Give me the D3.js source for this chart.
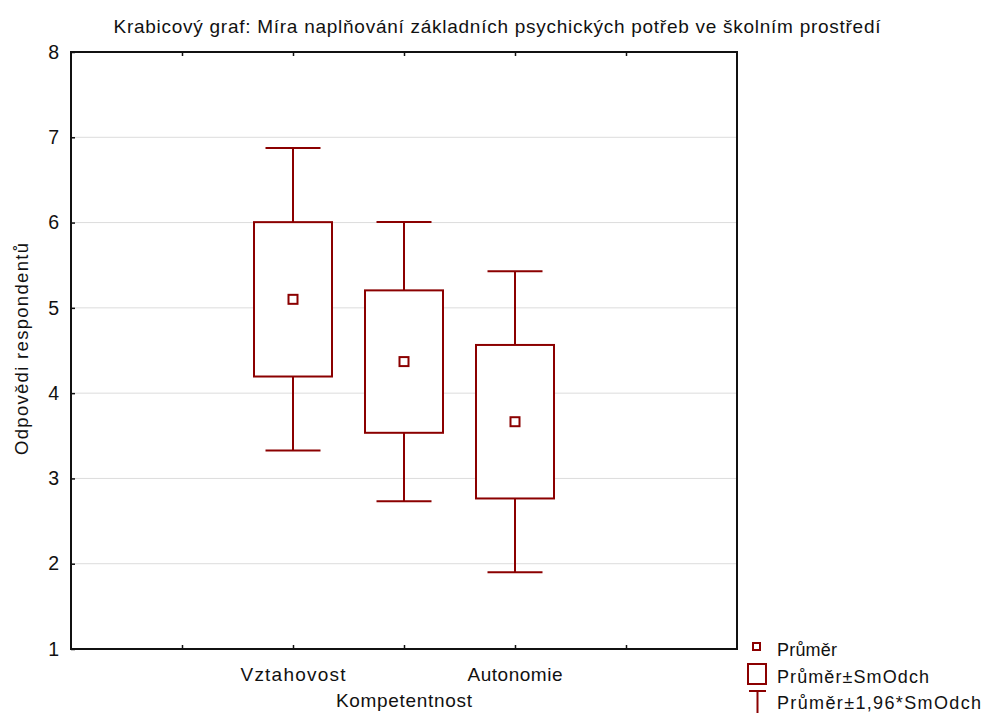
<!DOCTYPE html>
<html>
<head>
<meta charset="utf-8">
<script src="https://cdn.jsdelivr.net/npm/d3@7"></script>
<style>
  html, body { margin: 0; padding: 0; background: #fff; }
  svg { display: block; }
  text { font-family: "Liberation Sans", Arial, Helvetica, sans-serif; fill: #111; }
</style>
</head>
<body>
<svg id="chart" width="986" height="713"></svg>
<script>
// Skupiny (kategorie osy x) a jejich pozice na ose
const categories = ["Vztahovost", "Kompetentnost", "Autonomie"];
const categoryPositions = [2, 3, 4];
// Průměry a směrodatné odchylky pro jednotlivé skupiny
const means = [5.10, 4.37, 3.665];
const sds = [0.905, 0.835, 0.90];
const ciFactor = 1.96;
// Popisky osy y
const yTicks = [1, 2, 3, 4, 5, 6, 7, 8];
const xTicks = [1, 2, 3, 4, 5];
const legendLabels = ["Průměr", "Průměr±SmOdch", "Průměr±1,96*SmOdch"];

const title = "Krabicový graf: Míra naplňování základních psychických potřeb ve školním prostředí";
const yTitle = "Odpovědi respondentů";

const color = "#8b0000";
const margin = { left: 71, right: 249, top: 52, bottom: 64 };
const W = 986, H = 713;
const svg = d3.select("#chart");

const x = d3.scaleLinear().domain([0, 6]).range([margin.left, W - margin.right]);
const y = d3.scaleLinear().domain([1, 8]).range([H - margin.bottom, margin.top]);

// Mřížka
svg.append("g").selectAll("line")
  .data(yTicks.filter(t => t > 1 && t < 8))
  .join("line")
  .attr("x1", x(0)).attr("x2", x(6))
  .attr("y1", d => y(d)).attr("y2", d => y(d))
  .attr("stroke", "#dcdcdc").attr("stroke-width", 1);

// Osy s ticky směřujícími dovnitř
const axisLeft = d3.axisLeft(y).tickValues(yTicks).tickSize(-4).tickPadding(12).tickFormat(d3.format("d"));
const gy = svg.append("g").attr("transform", `translate(${x(0)},0)`).call(axisLeft);
gy.select(".domain").remove();
gy.selectAll(".tick line").attr("stroke", "#111").attr("stroke-width", 1.5);
gy.selectAll(".tick text").attr("font-size", 19.5).style("font-family", "Liberation Sans, Arial, sans-serif").attr("fill", "#111");

const axisBottom = d3.axisBottom(x).tickValues(xTicks).tickSize(-4).tickFormat("");
const gx = svg.append("g").attr("transform", `translate(0,${y(1)})`).call(axisBottom);
gx.select(".domain").remove();
gx.selectAll(".tick line").attr("stroke", "#111").attr("stroke-width", 1.5);

const axisTop = d3.axisTop(x).tickValues(xTicks).tickSize(-4).tickFormat("");
const gt = svg.append("g").attr("transform", `translate(0,${y(8)})`).call(axisTop);
gt.select(".domain").remove();
gt.selectAll(".tick line").attr("stroke", "#111").attr("stroke-width", 1.5);

// Rám grafu
svg.append("rect")
  .attr("x", x(0)).attr("y", y(8))
  .attr("width", x(6) - x(0)).attr("height", y(1) - y(8))
  .attr("fill", "none").attr("stroke", "#111").attr("stroke-width", 2);

// Popisky kategorií (prostřední posunutý níže)
const catWidths = [105, 136, 95];
svg.append("g").selectAll("text")
  .data(categories)
  .join("text")
  .attr("x", (d, i) => x(categoryPositions[i]))
  .attr("y", (d, i) => i === 1 ? 707 : 681)
  .attr("text-anchor", "middle")
  .attr("font-size", 19)
  .attr("textLength", (d, i) => catWidths[i]).attr("lengthAdjust", "spacing")
  .text(d => d);

// Krabice
const boxW = 78, capW = 55;
const groups = svg.append("g").selectAll("g")
  .data(categories.map((c, i) => ({ c, pos: categoryPositions[i], m: means[i], s: sds[i] })))
  .join("g");

groups.append("line")
  .attr("x1", d => x(d.pos)).attr("x2", d => x(d.pos))
  .attr("y1", d => y(d.m + ciFactor * d.s)).attr("y2", d => y(d.m - ciFactor * d.s))
  .attr("stroke", color).attr("stroke-width", 2);
groups.append("line")
  .attr("x1", d => x(d.pos) - capW / 2).attr("x2", d => x(d.pos) + capW / 2)
  .attr("y1", d => y(d.m + ciFactor * d.s)).attr("y2", d => y(d.m + ciFactor * d.s))
  .attr("stroke", color).attr("stroke-width", 2);
groups.append("line")
  .attr("x1", d => x(d.pos) - capW / 2).attr("x2", d => x(d.pos) + capW / 2)
  .attr("y1", d => y(d.m - ciFactor * d.s)).attr("y2", d => y(d.m - ciFactor * d.s))
  .attr("stroke", color).attr("stroke-width", 2);
groups.append("rect")
  .attr("x", d => x(d.pos) - boxW / 2)
  .attr("y", d => y(d.m + d.s))
  .attr("width", boxW)
  .attr("height", d => y(d.m - d.s) - y(d.m + d.s))
  .attr("fill", "#fff").attr("stroke", color).attr("stroke-width", 2);
groups.append("rect")
  .attr("x", d => x(d.pos) - 4.5).attr("y", d => y(d.m) - 4.5)
  .attr("width", 9).attr("height", 9)
  .attr("fill", "#fff").attr("stroke", color).attr("stroke-width", 2);

// Nadpis
svg.append("text")
  .attr("x", 497).attr("y", 33)
  .attr("text-anchor", "middle")
  .attr("font-size", 19)
  .attr("textLength", 767).attr("lengthAdjust", "spacing")
  .text(title);

// Popis osy y
svg.append("text")
  .attr("transform", "translate(28,349) rotate(-90)")
  .attr("text-anchor", "middle")
  .attr("font-size", 18.5)
  .attr("textLength", 212).attr("lengthAdjust", "spacing")
  .text(yTitle);

// Legenda
const lg = svg.append("g");
lg.append("rect").attr("x", 753).attr("y", 643).attr("width", 7).attr("height", 7)
  .attr("fill", "#fff").attr("stroke", color).attr("stroke-width", 2);
lg.append("rect").attr("x", 748).attr("y", 664).attr("width", 18).attr("height", 20)
  .attr("fill", "#fff").attr("stroke", color).attr("stroke-width", 2);
lg.append("line").attr("x1", 749).attr("x2", 766).attr("y1", 691).attr("y2", 691)
  .attr("stroke", color).attr("stroke-width", 2);
lg.append("line").attr("x1", 757.5).attr("x2", 757.5).attr("y1", 691).attr("y2", 713)
  .attr("stroke", color).attr("stroke-width", 2);
const legendWidths = [60, 152, 204];
lg.selectAll("text.lbl")
  .data(legendLabels)
  .join("text")
  .attr("class", "lbl")
  .attr("x", 777)
  .attr("y", (d, i) => [656, 683, 709][i])
  .attr("font-size", 18)
  .attr("textLength", (d, i) => legendWidths[i]).attr("lengthAdjust", "spacing")
  .text(d => d);
</script>
</body>
</html>
